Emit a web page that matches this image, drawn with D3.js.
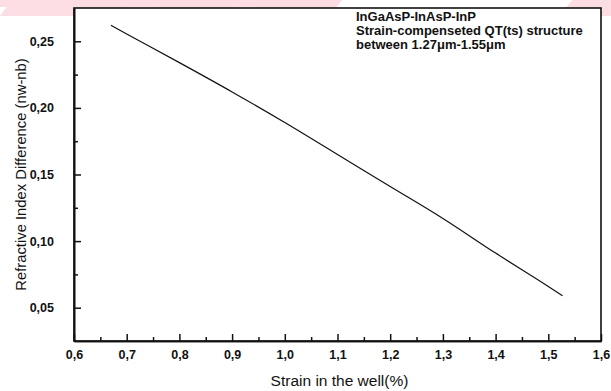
<!DOCTYPE html>
<html>
<head>
<meta charset="utf-8">
<script src="https://cdn.jsdelivr.net/npm/d3@7"></script>
<style>
  html, body { margin: 0; padding: 0; background: #fff; }
  svg text { font-family: "Liberation Sans", Arial, sans-serif; fill: #111; }
</style>
</head>
<body>
<svg id="chart" width="611" height="391"></svg>
<script>
// Data
const strain = [0.67, 0.70, 0.80, 0.90, 1.00, 1.10, 1.20, 1.30, 1.40, 1.50, 1.527];
const indexDiff = [0.262, 0.2555, 0.234, 0.212, 0.189, 0.165, 0.141, 0.117, 0.091, 0.066, 0.059];
const xTicks = [0.6, 0.7, 0.8, 0.9, 1.0, 1.1, 1.2, 1.3, 1.4, 1.5, 1.6];
const xMinor = [0.65, 0.75, 0.85, 0.95, 1.05, 1.15, 1.25, 1.35, 1.45, 1.55];
const yTicks = [0.05, 0.10, 0.15, 0.20, 0.25];
const yMinor = [0.075, 0.125, 0.175, 0.225];
const noteLines = ["InGaAsP-InAsP-InP", "Strain-compenseted QT(ts) structure", "between 1.27\u03bcm-1.55\u03bcm"];
const xTitle = "Strain in the well(%)";
const yTitle = "Refractive Index Difference (nw-nb)";

const svg = d3.select("#chart");
const m = {left: 74, top: 8, right: 10, bottom: 50};
const W = 611, H = 391;
const x = d3.scaleLinear().domain([0.6, 1.6]).range([m.left, W - m.right]);
const y = d3.scaleLinear().domain([0.025, 0.275]).range([H - m.bottom, m.top]);
const fmt = d => d3.format(".1f")(d).replace(".", ",");
const fmtY = d => d3.format(".2f")(d).replace(".", ",");

// faint scan watermark stripes at the top
const stripes = svg.append("g").attr("fill", "#fbdde3");
stripes.append("rect").attr("x", 0).attr("y", 0).attr("width", 330).attr("height", 7);
[[0, 120], [150, 230], [250, 330], [560, 611]].forEach(([a, b]) => {
  stripes.append("polygon").attr("points", `${a + 12},0 ${b + 12},0 ${b},16 ${a},16`);
});

// frame
svg.append("rect")
  .attr("x", x(0.6)).attr("y", y(0.275))
  .attr("width", x(1.6) - x(0.6)).attr("height", y(0.025) - y(0.275))
  .attr("fill", "#fff").attr("stroke", "#111").attr("stroke-width", 1.6);

// x axis
const gx = svg.append("g").attr("transform", `translate(0,${y(0.025)})`);
gx.call(d3.axisBottom(x).tickValues(xTicks).tickFormat(fmt).tickSizeInner(-7).tickSizeOuter(0).tickPadding(9));
gx.append("g").call(d3.axisBottom(x).tickValues(xMinor).tickFormat("").tickSizeInner(-4).tickSizeOuter(0));
gx.selectAll(".domain").attr("stroke", "#111").attr("stroke-width", 1.6);
gx.selectAll(".tick line").attr("stroke", "#111").attr("stroke-width", 1.5);
gx.selectAll(".tick text").attr("font-size", 12.5).attr("font-weight", "bold").attr("fill", "#111");

// y axis
const gy = svg.append("g").attr("transform", `translate(${x(0.6)},0)`);
gy.call(d3.axisLeft(y).tickValues(yTicks).tickFormat(fmtY).tickSizeInner(-7).tickSizeOuter(0).tickPadding(20));
gy.append("g").call(d3.axisLeft(y).tickValues(yMinor).tickFormat("").tickSizeInner(-4).tickSizeOuter(0));
gy.selectAll(".domain").attr("stroke", "#111").attr("stroke-width", 1.6);
gy.selectAll(".tick line").attr("stroke", "#111").attr("stroke-width", 1.5);
gy.selectAll(".tick text").attr("font-size", 12.5).attr("font-weight", "bold").attr("fill", "#111");

// line
const line = d3.line().x((d, i) => x(strain[i])).y(d => y(d)).curve(d3.curveMonotoneX);
svg.append("path").datum(indexDiff)
  .attr("d", line).attr("fill", "none").attr("stroke", "#111").attr("stroke-width", 1.2);

// annotation
const note = svg.append("text").attr("x", 356).attr("y", 21)
  .attr("font-size", 13).attr("font-weight", "bold");
noteLines.forEach((t, i) => note.append("tspan").attr("x", 356).attr("dy", i === 0 ? 0 : 14).text(t));

// axis titles
svg.append("text").attr("x", (x(0.6) + x(1.6)) / 2 + 2).attr("y", 386)
  .attr("text-anchor", "middle").attr("font-size", 15.5).text(xTitle);
svg.append("text").attr("transform", `translate(26,${(y(0.025) + y(0.275)) / 2}) rotate(-90)`)
  .attr("text-anchor", "middle").attr("font-size", 14.8).text(yTitle);
</script>
</body>
</html>
